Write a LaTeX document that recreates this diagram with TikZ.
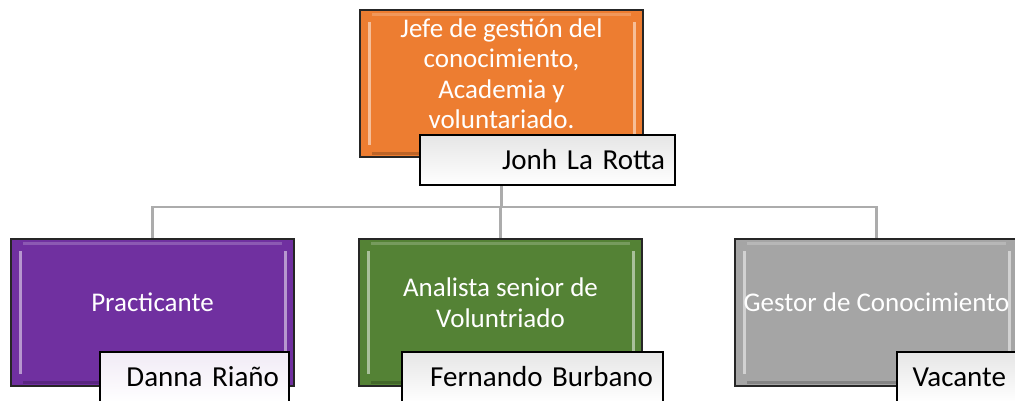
\documentclass[tikz,border=0pt]{standalone}
\usepackage{fontspec}
\setmainfont{Carlito}
\usetikzlibrary{positioning}
\definecolor{jefeorange}{HTML}{ED7D31}
\definecolor{practpurple}{HTML}{7030A0}
\definecolor{analgreen}{HTML}{548235}
\definecolor{gestgray}{HTML}{A5A5A5}
\definecolor{linkgray}{HTML}{ACACAC}

\begin{document}
\begin{tikzpicture}[x=1pt,y=-1pt,
rolebox/.style={draw=black!85,line width=1.2pt,minimum width=283pt,minimum height=147pt,inner sep=0pt,
  path picture={
   \draw[white,opacity=.5,line width=3pt] ([xshift=9pt,yshift=-12pt]path picture bounding box.north west)
     -- ([xshift=9pt,yshift=12pt]path picture bounding box.south west);
   \draw[white,opacity=.5,line width=3pt] ([xshift=-9pt,yshift=-12pt]path picture bounding box.north east)
     -- ([xshift=-9pt,yshift=12pt]path picture bounding box.south east);
   \draw[white,opacity=.2,line width=3pt] ([xshift=12pt,yshift=-4pt]path picture bounding box.north west)
     -- ([xshift=-12pt,yshift=-4pt]path picture bounding box.north east);
   \draw[black,opacity=.2,line width=3pt] ([xshift=12pt,yshift=4pt]path picture bounding box.south west)
     -- ([xshift=-12pt,yshift=4pt]path picture bounding box.south east);}},
roletext/.style={text=white,align=center,font=\fontsize{27}{30.5}\selectfont},
namebox/.style={draw=black,line width=1.2pt,top color=#1!10,bottom color=white,minimum height=50pt,
  inner xsep=10pt,inner ysep=0pt,align=right,font=\fontsize{29}{30}\selectfont},
link/.style={draw=linkgray,line width=2.4pt}]
\useasboundingbox (0,0) rectangle (1015,400);

\node[rolebox,fill=jefeorange] (jefe) at (501.5,83.5) {};
\node[rolebox,fill=practpurple] (pract) at (152.5,312.5) {};
\node[rolebox,fill=analgreen] (anal) at (500.5,312.5) {};
\node[rolebox,fill=gestgray] (gest) at (876.5,312.5) {};

\coordinate (bus) at (501,207);
\path[link] (jefe.south) -- (jefe.south |- bus) -| (pract.north);
\path[link] (jefe.south |- bus) -| (anal.north);
\path[link] (jefe.south |- bus) -| (gest.north);

\node[roletext] (jefe-t) at ([yshift=10pt]jefe.center)
  {Jefe de gestión del\\conocimiento,\\Academia y\\voluntariado.};
\node[roletext] (pract-t) at ([yshift=10pt]pract.center) {Practicante};
\node[roletext] (anal-t) at ([yshift=10pt]anal.center) {Analista senior de\\Voluntriado};
\node[roletext] (gest-t) at ([yshift=10pt]gest.center) {Gestor de Conocimiento};

\node[namebox=black,text width=235pt] (jefe-n) at (547.5,160) {Jonh La Rotta};
\node[namebox=practpurple,text width=169pt] (pract-n) at (194.5,377) {Danna Riaño};
\node[namebox=black,text width=241pt] (anal-n) at (532.5,377) {Fernando Burbano};
\node[namebox=black,text width=99pt] (gest-n) at (956.5,377) {Vacante};
\end{tikzpicture}
\end{document}
